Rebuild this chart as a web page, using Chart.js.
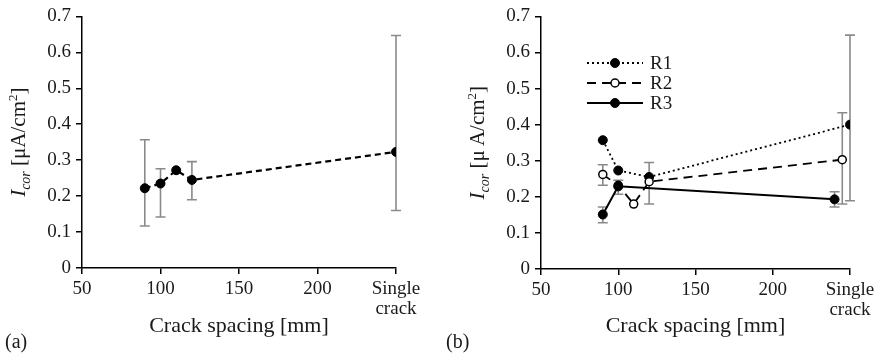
<!DOCTYPE html>
<html><head><meta charset="utf-8">
<script src="https://cdn.jsdelivr.net/npm/chart.js@4.4.0/dist/chart.umd.min.js"></script>
<style>
html,body{margin:0;padding:0;background:#fff;width:883px;height:355px;overflow:hidden;}
.wrap{position:absolute;top:0;height:355px;}
#wa{left:0;width:440px;}
#wb{left:440px;width:443px;}
.lab{position:absolute;top:330px;font:20px "Liberation Serif",serif;color:#1a1a1a;line-height:22px;}
</style></head><body>
<div class="wrap" id="wa"><canvas id="ca" width="440" height="355"></canvas></div>
<div class="wrap" id="wb"><canvas id="cb" width="443" height="355"></canvas></div>
<div class="lab" style="left:5px">(a)</div>
<div class="lab" style="left:446px">(b)</div>
<script>
// ---- tick labels ----
const xTickValues = [50, 100, 150, 200, 250];
const xTickLabels = ['50', '100', '150', '200', ['Single', 'crack']];
const yTickValues = [0, 0.1, 0.2, 0.3, 0.4, 0.5, 0.6, 0.7];
const yTickLabels = ['0', '0.1', '0.2', '0.3', '0.4', '0.5', '0.6', '0.7'];

// ---- (a) average ----
const avgX  = [90, 100, 110, 120, 250];
const avgY  = [0.222, 0.235, 0.272, 0.245, 0.323];
const avgHi = [0.357, 0.276, null, 0.296, 0.647];
const avgLo = [0.117, 0.142, null, 0.190, 0.160];

// ---- (b) R1, R2, R3 ----
const r1X  = [90, 100, 120, 250];
const r1Y  = [0.357, 0.273, 0.255, 0.400];
const r1Hi = [null, null, null, 0.648];
const r1Lo = [null, null, null, 0.189];

const r2X  = [90, 100, 110, 120, 245];
const r2Y  = [0.262, 0.232, 0.180, 0.242, 0.303];
const r2Hi = [0.289, null, null, 0.295, 0.433];
const r2Lo = [0.232, null, null, 0.180, 0.180];

const r3X  = [90, 100, 240];
const r3Y  = [0.151, 0.229, 0.193];
const r3Hi = [0.172, 0.246, 0.214];
const r3Lo = [0.128, 0.207, 0.172];

const seriesNames = ['R1', 'R2', 'R3'];

const FONT = '"Liberation Serif", "Times New Roman", serif';
const INK = '#1a1a1a';

function pts(xs, ys) { return xs.map((x, i) => ({x: x, y: ys[i]})); }

const errorBarPlugin = {
  id: 'errbars',
  beforeDatasetsDraw(chart) {
    const ctx = chart.ctx, xs = chart.scales.x, ys = chart.scales.y;
    ctx.save();
    ctx.strokeStyle = '#8a8a8a';
    ctx.lineWidth = 1.6;
    chart.data.datasets.forEach(ds => {
      if (!ds.errHi) return;
      ds.data.forEach((p, i) => {
        const hi = ds.errHi[i], lo = ds.errLo[i];
        if (hi == null || lo == null) return;
        const px = xs.getPixelForValue(p.x);
        const y1 = ys.getPixelForValue(hi), y2 = ys.getPixelForValue(lo);
        ctx.beginPath();
        ctx.moveTo(px, y1); ctx.lineTo(px, y2);
        ctx.moveTo(px - 5, y1); ctx.lineTo(px + 5, y1);
        ctx.moveTo(px - 5, y2); ctx.lineTo(px + 5, y2);
        ctx.stroke();
      });
    });
    ctx.restore();
  }
};

function yTitlePlugin(gap, spaced) {
  return {
    id: 'ytitle',
    afterDraw(chart) {
      const ctx = chart.ctx, a = chart.chartArea;
      const cx = a.left - gap, cy = (a.top + a.bottom) / 2;
      const parts = [
        {t: 'I', f: 'italic 21px ' + FONT, dy: 0},
        {t: 'cor', f: 'italic 14px ' + FONT, dy: 5},
        {t: spaced ? ' [\u03bc\u2009A/cm' : ' [\u03bcA/cm', f: '21px ' + FONT, dy: 0},
        {t: '2', f: '13px ' + FONT, dy: -8},
        {t: ']', f: '21px ' + FONT, dy: 0}
      ];
      ctx.save();
      let total = 0;
      parts.forEach(p => { ctx.font = p.f; p.w = ctx.measureText(p.t).width; total += p.w; });
      ctx.translate(cx, cy);
      ctx.rotate(-Math.PI / 2);
      ctx.fillStyle = INK;
      ctx.textBaseline = 'alphabetic';
      let x = -total / 2;
      parts.forEach(p => { ctx.font = p.f; ctx.fillText(p.t, x, 7 + p.dy); x += p.w; });
      ctx.restore();
    }
  };
}

const legendPlugin = {
  id: 'customLegend',
  afterDraw(chart) {
    const ctx = chart.ctx, a = chart.chartArea;
    const x0 = a.left + 46, x1 = a.left + 102, xt = a.left + 109;
    const rows = [63, 83, 103];
    ctx.save();
    chart.data.datasets.forEach((ds, i) => {
      const y = rows[i];
      ctx.strokeStyle = '#000';
      ctx.lineWidth = ds.borderWidth;
      ctx.setLineDash(ds.borderDash || []);
      ctx.beginPath(); ctx.moveTo(x0, y); ctx.lineTo(x1, y); ctx.stroke();
      ctx.setLineDash([]);
      ctx.beginPath();
      ctx.arc((x0 + x1) / 2, y, ds.pointRadius, 0, Math.PI * 2);
      ctx.fillStyle = ds.pointBackgroundColor;
      ctx.fill();
      ctx.lineWidth = ds.pointBorderWidth;
      ctx.strokeStyle = '#000';
      ctx.stroke();
      ctx.fillStyle = INK;
      ctx.font = '19px ' + FONT;
      ctx.textBaseline = 'middle';
      ctx.fillText(ds.label, xt, y + 1);
    });
    ctx.restore();
  }
};

function scales(yWidth, xHeight) {
  return {
    x: {
      type: 'linear', min: 50, max: 250,
      afterBuildTicks: s => { s.ticks = xTickValues.map(v => ({value: v})); },
      ticks: {
        autoSkip: false, maxRotation: 0, padding: 5, color: INK,
        font: {family: FONT, size: 19, lineHeight: 1.05},
        callback: v => xTickLabels[xTickValues.indexOf(v)]
      },
      grid: {display: true, drawOnChartArea: false, drawTicks: true, tickLength: 6, color: '#000', lineWidth: 1.5},
      border: {display: true, color: '#000', width: 1.5},
      title: {display: true, text: 'Crack spacing [mm]', color: INK,
              font: {family: FONT, size: 22, lineHeight: 1.2}, padding: {top: 0, bottom: 16}},
      afterFit: s => { s.height = xHeight; }
    },
    y: {
      type: 'linear', min: 0, max: 0.7,
      afterBuildTicks: s => { s.ticks = yTickValues.map(v => ({value: v})); },
      ticks: {
        padding: 5, color: INK, font: {family: FONT, size: 19},
        callback: v => yTickLabels[yTickValues.findIndex(t => Math.abs(t - v) < 1e-9)]
      },
      grid: {display: true, drawOnChartArea: false, drawTicks: true, tickLength: 6, color: '#000', lineWidth: 1.5},
      border: {display: true, color: '#000', width: 1.5},
      afterFit: s => { s.width = yWidth; }
    }
  };
}

new Chart(document.getElementById('ca'), {
  type: 'scatter',
  data: {
    datasets: [{
      label: 'Average',
      data: pts(avgX, avgY), errHi: avgHi, errLo: avgLo,
      showLine: true, borderColor: '#000', borderWidth: 2.2, borderDash: [6, 4],
      pointRadius: 4.5, pointBackgroundColor: '#000', pointBorderColor: '#000', pointBorderWidth: 1
    }]
  },
  options: {
    responsive: false, animation: false,
    layout: {padding: {left: 0, right: 44, top: 16, bottom: 0}},
    plugins: {legend: {display: false}, tooltip: {enabled: false}},
    scales: scales(82, 87)
  },
  plugins: [errorBarPlugin, yTitlePlugin(64, false)]
});

new Chart(document.getElementById('cb'), {
  type: 'scatter',
  data: {
    datasets: [
      {label: seriesNames[0], data: pts(r1X, r1Y), errHi: r1Hi, errLo: r1Lo, order: 2,
       showLine: true, borderColor: '#000', borderWidth: 1.8, borderDash: [2, 3],
       pointRadius: 4.5, pointBackgroundColor: '#000', pointBorderColor: '#000', pointBorderWidth: 1},
      {label: seriesNames[1], data: pts(r2X, r2Y), errHi: r2Hi, errLo: r2Lo, order: 1,
       showLine: true, borderColor: '#000', borderWidth: 1.8, borderDash: [9, 6],
       pointRadius: 4, pointBackgroundColor: '#fff', pointBorderColor: '#000', pointBorderWidth: 1.5},
      {label: seriesNames[2], data: pts(r3X, r3Y), errHi: r3Hi, errLo: r3Lo, order: 0,
       showLine: true, borderColor: '#000', borderWidth: 2, borderDash: [],
       pointRadius: 4.5, pointBackgroundColor: '#000', pointBorderColor: '#000', pointBorderWidth: 1}
    ]
  },
  options: {
    responsive: false, animation: false,
    layout: {padding: {left: 0, right: 33, top: 15, bottom: 0}},
    plugins: {legend: {display: false}, tooltip: {enabled: false}},
    scales: scales(101, 86)
  },
  plugins: [errorBarPlugin, yTitlePlugin(64, true), legendPlugin]
});
</script>
</body></html>
